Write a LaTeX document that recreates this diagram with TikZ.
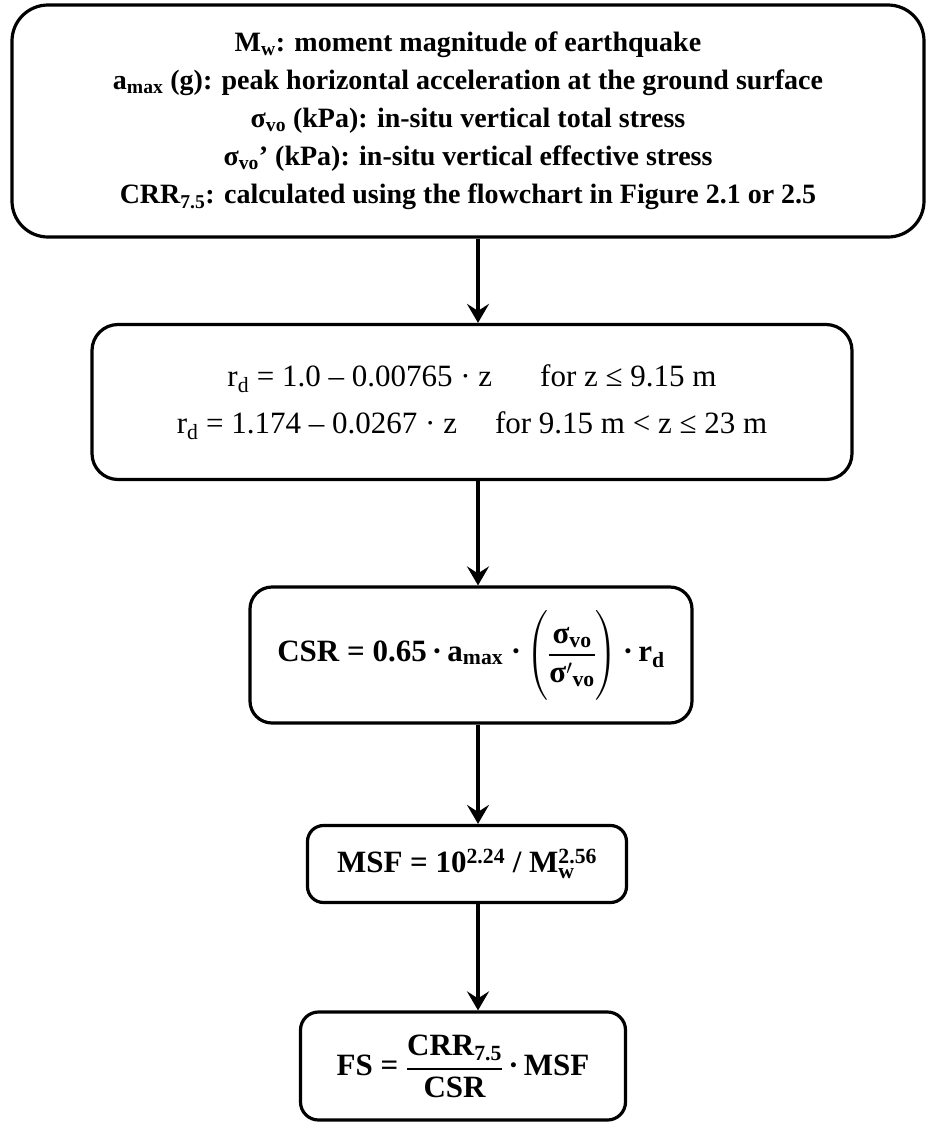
\documentclass[tikz,border=0pt]{standalone}
\usepackage{amsmath}
\usepackage{exscale}
\usepackage{fontspec}
\setmainfont{Liberation Serif}
\usetikzlibrary{arrows.meta,positioning}

\begin{document}
\begin{tikzpicture}[x=1pt,y=-1pt,>={Stealth[length=19pt,width=22pt,inset=7pt]}]
    \tikzstyle{stepbox}=[draw,line width=3.2pt,rounded corners=22pt,align=center,inner sep=0pt]
    \tikzstyle{flow}=[->,line width=4.2pt]
    \tikzstyle{big}=[font=\bfseries\fontsize{31}{42}\selectfont]
    \useasboundingbox (0,0) rectangle (929,1122);
    \coordinate (axis) at (478,0);

    % inputs
    \node [stepbox,rounded corners=36pt,minimum width=912pt,minimum height=232pt,
           font=\bfseries\fontsize{28}{38}\selectfont] (input) at (468,121)
        {M\textsubscript{w}: moment magnitude of earthquake\\
         a\textsubscript{max} (g): peak horizontal acceleration at the ground surface\\
         σ\textsubscript{vo} (kPa): in-situ vertical total stress\\
         σ\textsubscript{vo}’ (kPa): in-situ vertical effective stress\\
         CRR\textsubscript{7.5}: calculated using the flowchart in Figure 2.1 or 2.5};

    % stress reduction
    \node [stepbox,rounded corners=26pt,minimum width=760pt,minimum height=155pt,
           font=\fontsize{31}{47}\selectfont] (rd) at (472,402)
        {r$_{\text{d}}$ = 1.0 – 0.00765 · z\hspace{48pt}for z ≤ 9.15 m\\
         r$_{\text{d}}$ = 1.174 – 0.0267 · z\hspace{38pt}for 9.15 m < z ≤ 23 m};

    % cyclic stress ratio
    \node [stepbox,big,minimum width=442pt,minimum height=136pt] (csr) at (471,655)
        {CSR = 0.65\,·\,a$_{\text{max}}$ ·\,$\left(\vphantom{\rule[-34pt]{0pt}{84pt}}
         \genfrac{}{}{2.2pt}{0}{\text{σ}_{\text{vo}}}{\text{σ}'{}_{\text{vo}}}\right)$\,·\,r$_{\text{d}}$};

    % magnitude scaling factor
    \node [stepbox,big,rounded corners=16pt,minimum width=319pt,minimum height=77pt] (msf) at (467,864)
        {MSF = 10$^{\text{2.24}}$ / M$_{\text{w}}^{\text{2.56}}$};

    % factor of safety
    \node [stepbox,big,rounded corners=18pt,minimum width=325pt,minimum height=108pt] (fs) at (463,1066)
        {FS = $\genfrac{}{}{2.2pt}{0}{\text{CRR}_{\text{7.5}}}{\text{CSR}}$\,·\,MSF};

    \draw [flow] (input.south -| axis) -- (rd.north -| axis);
    \draw [flow] (rd.south -| axis) -- (csr.north -| axis);
    \draw [flow] (csr.south -| axis) -- (msf.north -| axis);
    \draw [flow] (msf.south -| axis) -- (fs.north -| axis);
\end{tikzpicture}
\end{document}
